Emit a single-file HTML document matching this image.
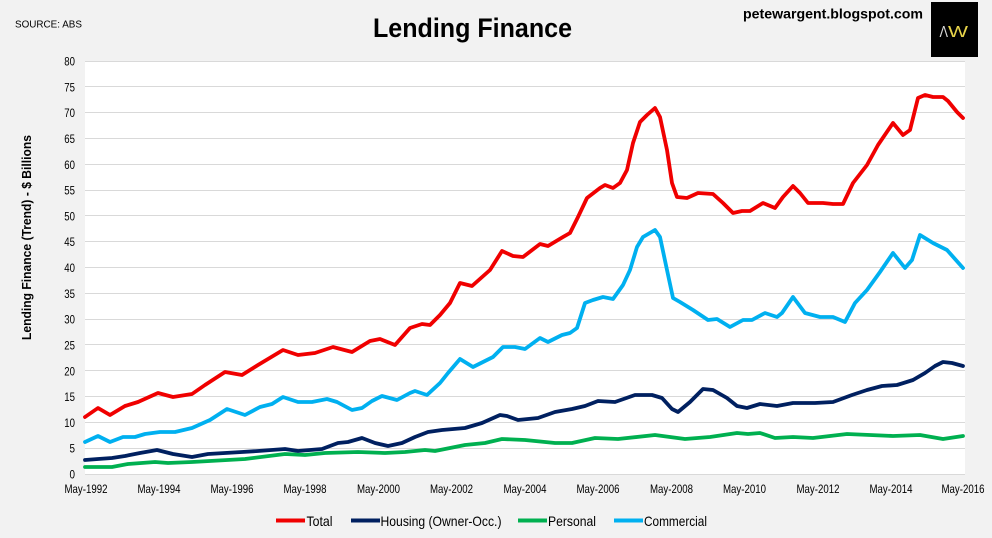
<!DOCTYPE html>
<html><head><meta charset="utf-8"><style>
html,body{margin:0;padding:0;background:#f2f2f2;}
svg{display:block;font-family:"Liberation Sans",Arial,sans-serif;}
</style></head><body>
<svg width="992" height="538" viewBox="0 0 992 538" xmlns="http://www.w3.org/2000/svg">
<rect x="0" y="0" width="992" height="538" fill="#f2f2f2"/>
<rect x="85" y="61" width="880" height="413" fill="#ffffff"/>
<g stroke="#d9d9d9" stroke-width="1">
<line x1="85" x2="965" y1="474.5" y2="474.5"/>
<line x1="85" x2="965" y1="448.5" y2="448.5"/>
<line x1="85" x2="965" y1="422.5" y2="422.5"/>
<line x1="85" x2="965" y1="396.5" y2="396.5"/>
<line x1="85" x2="965" y1="370.5" y2="370.5"/>
<line x1="85" x2="965" y1="344.5" y2="344.5"/>
<line x1="85" x2="965" y1="319.5" y2="319.5"/>
<line x1="85" x2="965" y1="293.5" y2="293.5"/>
<line x1="85" x2="965" y1="267.5" y2="267.5"/>
<line x1="85" x2="965" y1="241.5" y2="241.5"/>
<line x1="85" x2="965" y1="215.5" y2="215.5"/>
<line x1="85" x2="965" y1="190.5" y2="190.5"/>
<line x1="85" x2="965" y1="164.5" y2="164.5"/>
<line x1="85" x2="965" y1="138.5" y2="138.5"/>
<line x1="85" x2="965" y1="112.5" y2="112.5"/>
<line x1="85" x2="965" y1="86.5" y2="86.5"/>
<line x1="85" x2="965" y1="61.5" y2="61.5"/>
</g>
<g font-size="12" fill="#000" text-anchor="end" lengthAdjust="spacingAndGlyphs">
<text x="75" y="478.5" textLength="5.5" lengthAdjust="spacingAndGlyphs">0</text>
<text x="75" y="452.7" textLength="5.5" lengthAdjust="spacingAndGlyphs">5</text>
<text x="75" y="426.9" textLength="10.7" lengthAdjust="spacingAndGlyphs">10</text>
<text x="75" y="401.1" textLength="10.7" lengthAdjust="spacingAndGlyphs">15</text>
<text x="75" y="375.3" textLength="10.7" lengthAdjust="spacingAndGlyphs">20</text>
<text x="75" y="349.4" textLength="10.7" lengthAdjust="spacingAndGlyphs">25</text>
<text x="75" y="323.6" textLength="10.7" lengthAdjust="spacingAndGlyphs">30</text>
<text x="75" y="297.8" textLength="10.7" lengthAdjust="spacingAndGlyphs">35</text>
<text x="75" y="272" textLength="10.7" lengthAdjust="spacingAndGlyphs">40</text>
<text x="75" y="246.2" textLength="10.7" lengthAdjust="spacingAndGlyphs">45</text>
<text x="75" y="220.4" textLength="10.7" lengthAdjust="spacingAndGlyphs">50</text>
<text x="75" y="194.6" textLength="10.7" lengthAdjust="spacingAndGlyphs">55</text>
<text x="75" y="168.8" textLength="10.7" lengthAdjust="spacingAndGlyphs">60</text>
<text x="75" y="142.9" textLength="10.7" lengthAdjust="spacingAndGlyphs">65</text>
<text x="75" y="117.1" textLength="10.7" lengthAdjust="spacingAndGlyphs">70</text>
<text x="75" y="91.3" textLength="10.7" lengthAdjust="spacingAndGlyphs">75</text>
<text x="75" y="65.5" textLength="10.7" lengthAdjust="spacingAndGlyphs">80</text>
</g>
<g font-size="12" fill="#000" text-anchor="middle">
<text x="86" y="493" textLength="43" lengthAdjust="spacingAndGlyphs">May-1992</text>
<text x="159" y="493" textLength="43" lengthAdjust="spacingAndGlyphs">May-1994</text>
<text x="232" y="493" textLength="43" lengthAdjust="spacingAndGlyphs">May-1996</text>
<text x="305" y="493" textLength="43" lengthAdjust="spacingAndGlyphs">May-1998</text>
<text x="378.5" y="493" textLength="43" lengthAdjust="spacingAndGlyphs">May-2000</text>
<text x="451.5" y="493" textLength="43" lengthAdjust="spacingAndGlyphs">May-2002</text>
<text x="525" y="493" textLength="43" lengthAdjust="spacingAndGlyphs">May-2004</text>
<text x="598" y="493" textLength="43" lengthAdjust="spacingAndGlyphs">May-2006</text>
<text x="671.5" y="493" textLength="43" lengthAdjust="spacingAndGlyphs">May-2008</text>
<text x="744.5" y="493" textLength="43" lengthAdjust="spacingAndGlyphs">May-2010</text>
<text x="818" y="493" textLength="43" lengthAdjust="spacingAndGlyphs">May-2012</text>
<text x="891" y="493" textLength="43" lengthAdjust="spacingAndGlyphs">May-2014</text>
<text x="963" y="493" textLength="43" lengthAdjust="spacingAndGlyphs">May-2016</text>
</g>
<g fill="none" stroke-width="3.8" stroke-linejoin="round" stroke-linecap="round">
<polyline stroke="#00b050" points="85,467 112,467 128,464 155,462 168,463 192,462 245,459 285,454 305,455 325,453 358,452 385,453 405,452 425,450 435,451 465,445 485,443 502,439 525,440 555,443 572,443 595,438 618,439 655,435 685,439 710,437 737,433 748,434 760,433 775,438 793,437 813,438 847,434 893,436 920,435 943,439 963,436"/>
<polyline stroke="#002060" points="85,460 98,459 112,458 125,456 140,453 157,450 173,454 192,457 208,454 225,453 242,452 258,451 285,449 298,451 322,449 338,443 348,442 362,438 375,443 388,446 402,443 415,437 428,432 442,430 465,428 482,423 500,415 507,416 518,420 538,418 555,412 572,409 585,406 598,401 615,402 635,395 652,395 662,398 672,409 678,412 690,402 703,389 713,390 727,398 737,406 747,408 760,404 777,406 793,403 815,403 833,402 852,395 867,390 882,386 897,385 913,380 925,373 935,366 943,362 952,363 963,366"/>
<polyline stroke="#00b0f0" points="85,442 98,436 110,442 123,437 135,437 145,434 160,432 175,432 192,428 210,420 227,409 245,415 260,407 272,404 283,397 298,402 312,402 327,399 337,402 352,410 362,408 372,401 382,396 397,400 410,393 415,391 427,395 440,383 448,373 460,359 473,367 485,361 493,357 503,347 515,347 525,349 540,338 548,342 562,335 570,333 577,328 585,303 593,300 603,297 613,299 623,285 630,270 637,247 643,237 655,230 660,237 667,270 673,298 680,302 693,310 708,320 717,319 730,327 743,320 752,320 765,313 777,317 782,313 793,297 805,313 820,317 833,317 845,322 855,303 867,290 880,272 893,253 905,268 912,260 920,235 933,243 947,250 963,268"/>
<polyline stroke="#f00000" points="85,417 98,408 110,415 125,406 138,402 158,393 173,397 192,394 205,385 225,372 242,375 258,365 283,350 298,355 315,353 333,347 352,352 370,341 380,339 395,345 410,328 422,324 430,325 440,315 450,303 460,283 472,286 490,270 502,251 513,256 523,257 540,244 548,246 563,237 570,233 578,217 587,198 600,188 605,185 613,188 620,183 627,170 633,143 640,122 647,115 655,108 660,117 667,150 672,183 677,197 687,198 698,193 713,194 723,203 733,213 742,211 750,211 763,203 775,208 783,197 793,186 800,193 808,203 823,203 833,204 843,204 853,183 867,165 878,145 893,123 903,135 910,130 918,98 925,95 933,97 943,97 948,101 957,112 963,118"/>
</g>
<text transform="translate(31,237.5) rotate(-90)" text-anchor="middle" font-size="13" font-weight="bold" fill="#000" textLength="205" lengthAdjust="spacingAndGlyphs">Lending Finance (Trend) - $ Billions</text>
<text x="472.5" y="37" text-anchor="middle" font-size="27" font-weight="bold" fill="#000" textLength="199" lengthAdjust="spacingAndGlyphs">Lending Finance</text>
<text x="15" y="27.7" font-size="10" fill="#000" textLength="67" lengthAdjust="spacingAndGlyphs">SOURCE: ABS</text>
<text x="743" y="18.5" font-size="14" font-weight="bold" fill="#000" textLength="180" lengthAdjust="spacingAndGlyphs">petewargent.blogspot.com</text>
<rect x="931" y="2" width="47" height="55" fill="#000"/>
<text x="939.5" y="37" font-size="16" fill="#d8d8d8" textLength="8.5" lengthAdjust="spacingAndGlyphs">Λ</text>
<text x="948" y="37" font-size="16" fill="#e8d44a" textLength="20" lengthAdjust="spacingAndGlyphs">W</text>
<g stroke-width="4" stroke-linecap="butt">
<line x1="276" x2="305" y1="520.5" y2="520.5" stroke="#f00000"/>
<line x1="351" x2="380" y1="520.5" y2="520.5" stroke="#002060"/>
<line x1="518" x2="547" y1="520.5" y2="520.5" stroke="#00b050"/>
<line x1="614" x2="643" y1="520.5" y2="520.5" stroke="#00b0f0"/>
</g>
<g font-size="14" fill="#000">
<text x="306.5" y="526" textLength="26" lengthAdjust="spacingAndGlyphs">Total</text>
<text x="380.5" y="526" textLength="121" lengthAdjust="spacingAndGlyphs">Housing (Owner-Occ.)</text>
<text x="548" y="526" textLength="48" lengthAdjust="spacingAndGlyphs">Personal</text>
<text x="644" y="526" textLength="63" lengthAdjust="spacingAndGlyphs">Commercial</text>
</g>
</svg>
</body></html>
